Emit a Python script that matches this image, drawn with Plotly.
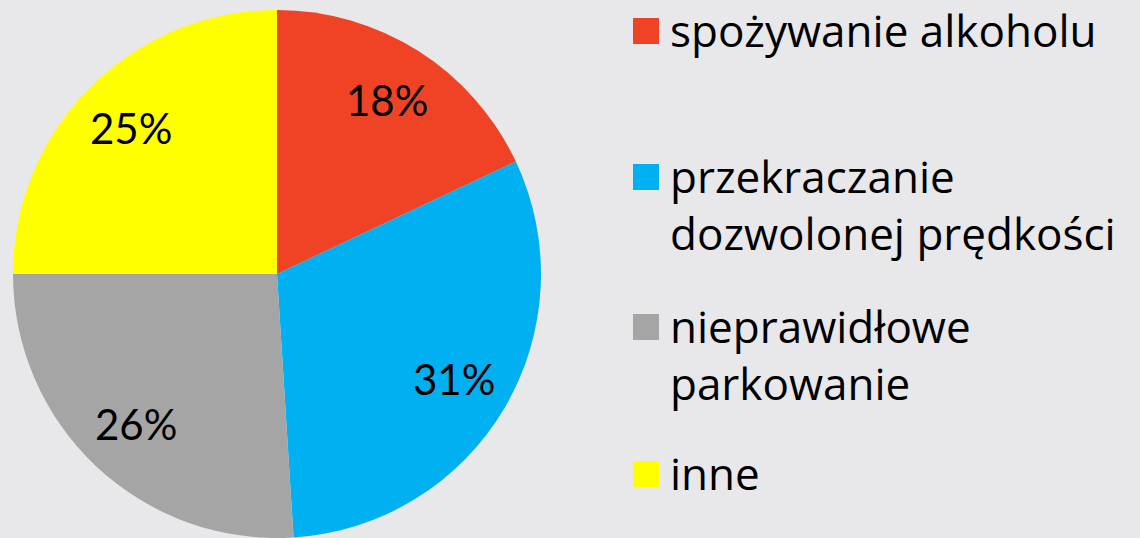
import math
import plotly.graph_objects as go

categories = ["spożywanie alkoholu", "przekraczanie<br>dozwolonej prędkości", "nieprawidłowe<br>parkowanie", "inne"]
values = [18, 31, 26, 25]
colors = ["#F04325", "#00B0F0", "#A5A5A5", "#FFFF00"]

W, H = 1140, 538
LEG_FONT = "Open Sans"
PCT_FONT = "Lato, sans-serif"

# pie geometry (pixels from top-left)
CX, CY, R = 277, 274, 264

fig = go.Figure()
fig.add_trace(go.Pie(
    labels=categories,
    values=values,
    sort=False,
    direction="clockwise",
    rotation=0,
    marker=dict(colors=colors, line=dict(width=0)),
    textinfo="none",
    domain=dict(x=[(CX - R) / W, (CX + R) / W], y=[1 - (CY + R) / H, 1 - (CY - R) / H]),
    showlegend=False,
    hoverinfo="label+percent",
))

# percentage labels placed at mid-angle of each slice
total = sum(values)
cum = 0
for v in values:
    mid = (cum + v / 2) / total * 2 * math.pi
    cum += v
    px = CX + 0.78 * R * math.sin(mid)
    py = CY - 0.78 * R * math.cos(mid)
    fig.add_annotation(xref="paper", yref="paper", x=px / W, y=1 - py / H,
                       xanchor="center", yanchor="middle", showarrow=False,
                       text=f"{v}%", font=dict(family=PCT_FONT, size=42, color="black"))

# custom legend
baselines = [45, 191, 341, 488]
for cat, col, base in zip(categories, colors, baselines):
    fig.add_shape(type="rect", xref="paper", yref="paper",
                  x0=633 / W, x1=659 / W, y0=1 - (base - 1) / H, y1=1 - (base - 27) / H,
                  fillcolor=col, line=dict(width=0))
    fig.add_annotation(xref="paper", yref="paper", x=668 / W, y=1 - (base - 47) / H,
                       xanchor="left", yanchor="top", align="left",
                       text=cat, showarrow=False,
                       font=dict(family=LEG_FONT, size=44, color="black"))

fig.update_layout(
    width=W, height=H,
    margin=dict(l=0, r=0, t=0, b=0),
    paper_bgcolor="#e8e8ea",
    plot_bgcolor="#e8e8ea",
)
fig.write_html("out.html", config={"displayModeBar": False},
               post_script="document.body.style.margin='0';document.body.style.background='#e8e8ea';")
